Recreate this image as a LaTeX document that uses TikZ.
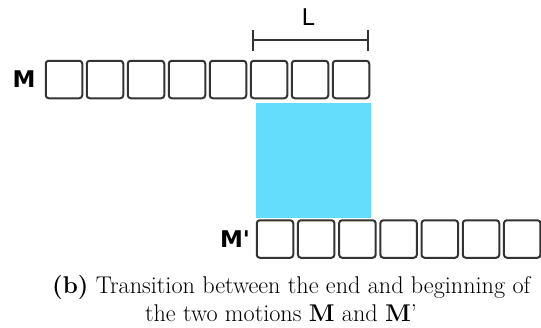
\documentclass[tikz,border=0pt]{standalone}
\usepackage{fontspec}
\newfontfamily\labfont{DejaVu Sans}
\definecolor{boxline}{HTML}{333333}
\definecolor{trans}{HTML}{64DCFB}
\begin{document}
\begin{tikzpicture}[x=1pt,y=-1pt,
  cell/.style={draw=boxline, line width=2pt, rounded corners=3pt, minimum width=36.5pt, minimum height=37.5pt, inner sep=0pt},
  lab/.style={font=\labfont\fontsize{23}{23}\selectfont, inner sep=0pt},
  capt/.style={font=\fontsize{24.2}{28}\selectfont, inner sep=0pt},
  dim/.style={draw=boxline, line width=2pt}]
\useasboundingbox (0,0) rectangle (541,327);
\clip (0,0) rectangle (541,327);
% transition area
\fill[trans] (256,103) rectangle (371,218);
% top row M
\foreach \i in {1,...,8} {
  \node[cell] (t\i) at ({64+41*(\i-1)},79.5) {};
}
% bottom row M'
\foreach \i in {1,...,7} {
  \node[cell] (b\i) at ({275+41.2*(\i-1)},239) {};
}
% labels
\node[lab, anchor=base, font=\labfont\bfseries\fontsize{23}{23}\selectfont] (m) at (24,87) {M};
\node[lab, anchor=base, font=\labfont\bfseries\fontsize{23}{23}\selectfont] (mp) at (235,247) {M'};
% L dimension
\coordinate (la) at (253,40);
\coordinate (lb) at (368,40);
\draw[dim] (la) -- (lb);
\draw[dim] ([yshift=-10.5pt]la) -- ([yshift=10.5pt]la);
\draw[dim] ([yshift=-10.5pt]lb) -- ([yshift=10.5pt]lb);
\node[lab, anchor=base] (L) at (308,25) {L};
% caption
\node[capt, anchor=base west] (c1) at (52,293) {\textbf{(b)} Transition between the end and beginning of};
\node[capt, anchor=base] (c2) at (281,321) {the two motions \textbf{M} and \textbf{M}'};
\end{tikzpicture}
\end{document}
